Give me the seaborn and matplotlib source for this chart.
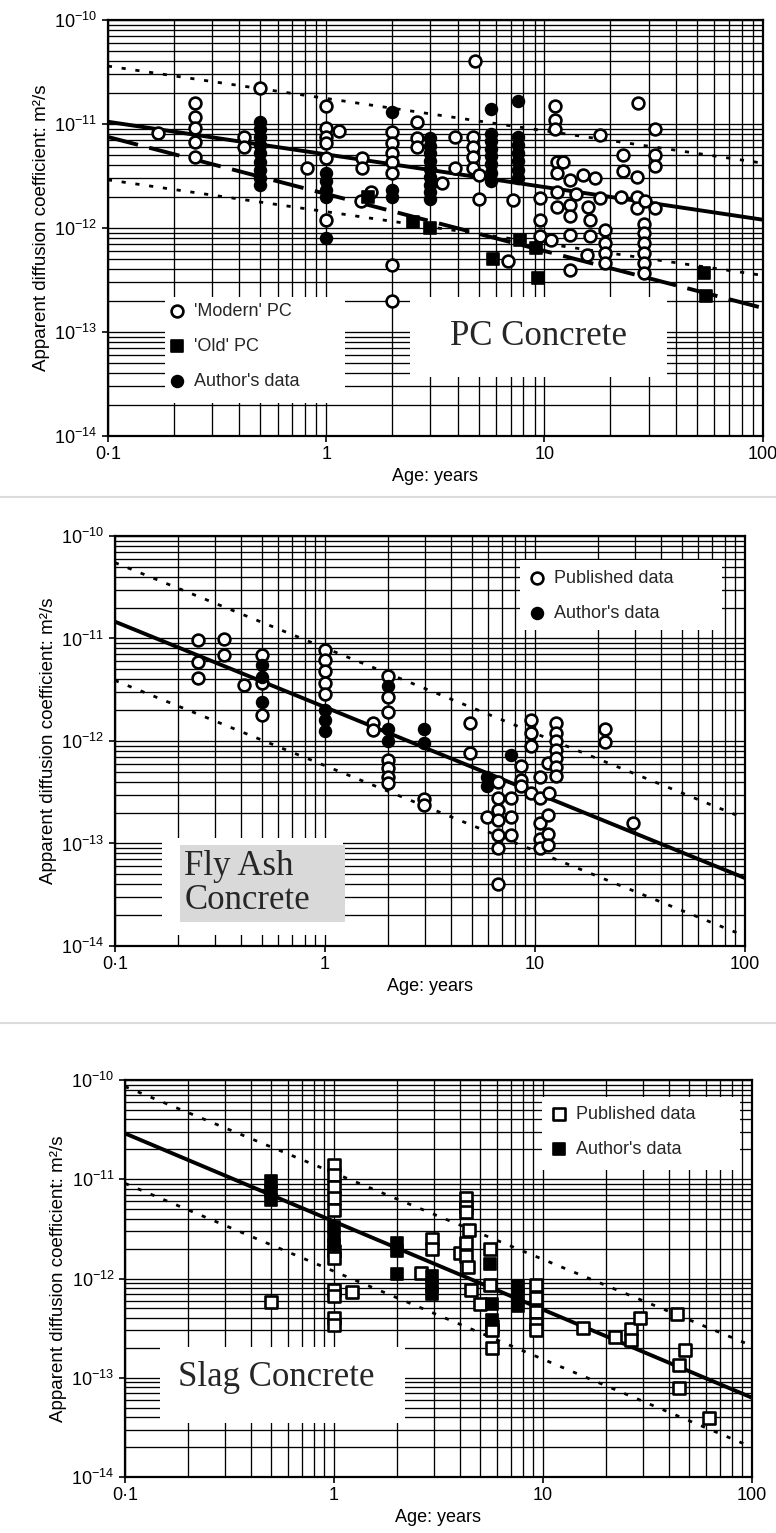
import numpy as np
import pandas as pd
import matplotlib
matplotlib.use("Agg")
import matplotlib.pyplot as plt
import matplotlib.ticker as mticker
from matplotlib.patches import Rectangle
from matplotlib.lines import Line2D
import seaborn as sns

sns.set_theme(style="white")
plt.rcParams['font.family'] = ['Liberation Sans', 'DejaVu Sans']

# axis ticks
age_ticks = [0.1, 1, 10, 100]
age_tick_labels = ['0·1', '1', '10', '100']
d_ticks = [1e-14, 1e-13, 1e-12, 1e-11, 1e-10]
fit_age = [0.1, 100]

# ---- PC concrete (top panel) ----
pc_modern_age = [0.17, 0.25, 0.25, 0.25, 0.25, 0.25, 0.42, 0.42, 0.5, 0.82,
                 1, 1, 1, 1, 1, 1, 1.15, 1.46, 1.46, 1.45, 1.6,
                 2, 2, 2, 2, 2, 2, 2, 2.6, 2.6, 2.6, 3.4, 3.9, 3.9,
                 4.7, 4.7, 4.7, 4.7, 5.0, 5.0, 4.8, 6.8, 7.2,
                 9.5, 9.5, 9.5, 10.7, 11.2, 11.2, 11.2, 11.4, 11.4, 11.4, 11.4, 12.2,
                 13.1, 13.1, 13.1, 13.1, 13.1, 14, 15, 15.6, 15.8, 16.1, 16.1, 17, 18, 18,
                 18.9, 18.9, 18.9, 18.9, 22.5, 23, 23, 26.5, 26.5, 26.5, 26.8,
                 28.5, 28.5, 28.5, 28.5, 28.5, 28.5, 29, 32, 32, 32, 32]
pc_modern_d = [8.1e-12, 1.6e-11, 1.17e-11, 9.1e-12, 6.7e-12, 4.8e-12, 7.5e-12, 6.0e-12, 2.2e-11, 3.8e-12,
               1.5e-11, 9.1e-12, 7.5e-12, 6.6e-12, 4.7e-12, 1.2e-12, 8.6e-12, 4.7e-12, 3.8e-12, 1.8e-12, 2.2e-12,
               8.4e-12, 6.5e-12, 5.3e-12, 4.3e-12, 3.4e-12, 4.4e-13, 2.0e-13, 1.05e-11, 7.3e-12, 6.0e-12, 2.7e-12, 7.5e-12, 3.8e-12,
               7.5e-12, 6.0e-12, 4.8e-12, 3.8e-12, 3.2e-12, 1.9e-12, 4.0e-11, 4.8e-13, 1.85e-12,
               1.95e-12, 1.2e-12, 8.3e-13, 7.7e-13, 1.5e-11, 1.1e-11, 9.0e-12, 4.3e-12, 3.4e-12, 2.2e-12, 1.6e-12, 4.3e-12,
               2.9e-12, 1.65e-12, 1.3e-12, 8.6e-13, 3.9e-13, 2.1e-12, 3.2e-12, 5.5e-13, 1.6e-12, 1.2e-12, 8.3e-13, 3.0e-12, 7.8e-12, 1.95e-12,
               9.6e-13, 7.1e-13, 5.7e-13, 4.6e-13, 2.0e-12, 5.0e-12, 3.5e-12, 3.1e-12, 2.0e-12, 1.55e-12, 1.6e-11,
               1.1e-12, 9.0e-13, 7.2e-13, 5.7e-13, 4.6e-13, 3.7e-13, 1.8e-12, 8.9e-12, 5.0e-12, 3.9e-12, 1.55e-12]
pc_old_age = [1.55, 2.5, 3.0, 5.8, 7.7, 9.1, 9.3, 54, 55]
pc_old_d = [2.0e-12, 1.15e-12, 1.0e-12, 5.0e-13, 7.6e-13, 6.4e-13, 3.3e-13, 3.7e-13, 2.2e-13]
pc_author_age = [0.5] * 9 + [1] * 5 + [2] * 3 + [3] * 9 + [5.7] * 8 + [7.6] * 7
pc_author_d = [1.05e-11, 9e-12, 7.5e-12, 6.3e-12, 5.2e-12, 4.3e-12, 3.6e-12, 3.0e-12, 2.6e-12,
               3.4e-12, 2.8e-12, 2.3e-12, 2.0e-12, 8e-13,
               1.3e-11, 2.3e-12, 2.0e-12,
               7.3e-12, 6.2e-12, 5.2e-12, 4.4e-12, 3.7e-12, 3.1e-12, 2.6e-12, 2.2e-12, 1.9e-12,
               1.4e-11, 8e-12, 6.8e-12, 5.8e-12, 4.9e-12, 4.1e-12, 3.4e-12, 2.8e-12,
               1.65e-11, 7.5e-12, 6.3e-12, 5.3e-12, 4.4e-12, 3.6e-12, 3.0e-12]
pc_mean = [1.05e-11, 1.2e-12]
pc_upper = [3.6e-11, 4.2e-12]
pc_lower = [2.9e-12, 3.5e-13]
pc_old_fit = [7.5e-12, 1.7e-13]

# ---- Fly ash concrete (middle panel) ----
fa_pub_age = [0.25, 0.25, 0.25, 0.33, 0.33, 0.41, 0.5, 0.5, 0.5,
              1, 1, 1, 1, 1, 1.7, 1.7, 2, 2, 2, 2, 2, 2, 2, 2.95, 2.95,
              4.9, 4.9, 5.9, 6.7, 6.7, 6.7, 6.7, 6.7, 6.7, 6.7, 7.7, 7.7, 7.7,
              8.6, 8.6, 8.6, 9.6, 9.6, 9.6, 9.6, 10.6, 10.6, 10.6, 10.6, 10.6,
              11.5, 11.5, 11.5, 11.5, 11.7, 12.6, 12.6, 12.6, 12.6, 12.6, 12.6, 12.6,
              21.5, 21.5, 29.4]
fa_pub_d = [9.7e-12, 5.9e-12, 4.1e-12, 9.8e-12, 6.9e-12, 3.5e-12, 6.9e-12, 3.7e-12, 1.8e-12,
            7.7e-12, 6.2e-12, 4.8e-12, 3.7e-12, 2.9e-12, 1.5e-12, 1.28e-12,
            4.3e-12, 2.7e-12, 1.9e-12, 6.5e-13, 5.4e-13, 4.5e-13, 3.9e-13, 2.7e-13, 2.35e-13,
            1.5e-12, 7.7e-13, 1.8e-13, 4.0e-13, 2.75e-13, 2.1e-13, 1.7e-13, 1.2e-13, 9e-14, 4e-14,
            2.75e-13, 1.8e-13, 1.2e-13, 5.7e-13, 4.2e-13, 3.6e-13, 1.6e-12, 1.2e-12, 8.9e-13, 3.1e-13,
            4.5e-13, 2.75e-13, 1.6e-13, 1.1e-13, 9e-14, 6.1e-13, 1.9e-13, 1.25e-13, 9.7e-14, 3.1e-13,
            1.5e-12, 1.2e-12, 1.0e-12, 8.2e-13, 6.8e-13, 5.6e-13, 4.6e-13, 1.3e-12, 9.8e-13, 1.6e-13]
fa_author_age = [0.5, 0.5, 0.5, 1, 1, 1, 2, 2, 2, 2.95, 2.95, 5.9, 5.9, 7.7]
fa_author_d = [5.5e-12, 4.2e-12, 2.4e-12, 2.0e-12, 1.6e-12, 1.25e-12, 3.4e-12, 1.3e-12, 1.0e-12,
               1.3e-12, 9.5e-13, 4.5e-13, 3.6e-13, 7.3e-13]
fa_mean = [1.46e-11, 4.6e-14]
fa_upper = [5.5e-11, 1.75e-13]
fa_lower = [3.9e-12, 1.25e-14]

# ---- Slag concrete (bottom panel) ----
sl_pub_age = [0.5, 1, 1, 1, 1, 1, 1, 1, 1, 1, 1, 1, 1.22, 2.6, 2.93, 2.93, 4.0,
              4.3, 4.3, 4.3, 4.3, 4.3, 4.45, 4.4, 4.55, 5.0, 5.6, 5.6, 5.7, 5.7, 5.7,
              9.3, 9.3, 9.3, 9.3, 9.3, 15.5, 22, 26.5, 26.5, 29, 44, 45, 45, 48, 62]
sl_pub_d = [5.8e-13, 1.4e-11, 1.1e-11, 8.4e-12, 6.4e-12, 4.9e-12, 1.9e-12, 1.6e-12, 7.7e-13, 6.6e-13, 4.0e-13, 3.4e-13,
            7.4e-13, 1.14e-12, 2.5e-12, 2.0e-12, 1.8e-12,
            6.4e-12, 5.3e-12, 4.7e-12, 2.3e-12, 1.7e-12, 3.1e-12, 1.3e-12, 7.7e-13, 5.6e-13,
            2.0e-12, 8.6e-13, 3.3e-13, 3.0e-13, 2.0e-13,
            8.6e-13, 6.3e-13, 4.6e-13, 3.5e-13, 3.0e-13, 3.2e-13, 2.6e-13, 3.1e-13, 2.4e-13, 4.0e-13,
            4.4e-13, 1.35e-13, 7.8e-14, 1.9e-13, 3.9e-14]
sl_author_age = [0.5, 0.5, 0.5, 1, 1, 1, 2, 2, 2, 2.93, 2.93, 2.93, 5.6, 5.7, 5.7, 7.6, 7.6, 7.6]
sl_author_d = [9.5e-12, 7.7e-12, 6.2e-12, 3.3e-12, 2.6e-12, 2.2e-12, 2.3e-12, 1.9e-12, 1.1e-12,
               1.05e-12, 8.5e-13, 7e-13, 1.4e-12, 5.6e-13, 3.8e-13, 8.5e-13, 6.6e-13, 5.3e-13]
sl_mean = [2.9e-11, 6.3e-14]
sl_upper = [8.6e-11, 2.1e-13]
sl_lower = [9.1e-12, 2.0e-14]

DOTTED = (0, (1.5, 3.5))
LEG_KW = dict(loc='upper left', frameon=False, fontsize=13, labelspacing=1.0, handletextpad=0.45,
              borderaxespad=0, borderpad=0, handlelength=1.0)

fig = plt.figure(figsize=(7.76, 15.33), dpi=100)
ax1 = fig.add_axes([0.139, 0.7156, 0.844, 0.2714])
ax2 = fig.add_axes([0.148, 0.3829, 0.812, 0.2675])
ax3 = fig.add_axes([0.161, 0.0365, 0.808, 0.259])


def style_axes(ax):
    ax.set_xscale('log')
    ax.set_yscale('log')
    ax.set_xlim(0.1, 100)
    ax.set_ylim(1e-14, 1e-10)
    ax.set_xticks(age_ticks, labels=age_tick_labels)
    ax.yaxis.set_major_locator(mticker.FixedLocator(d_ticks))
    ax.yaxis.set_major_formatter(mticker.LogFormatterSciNotation())
    for a in (ax.xaxis, ax.yaxis):
        a.set_minor_locator(mticker.LogLocator(10, subs=np.arange(2, 10), numticks=60))
        a.set_minor_formatter(mticker.NullFormatter())
    ax.grid(True, which='both', color='black', linewidth=0.95)
    ax.set_axisbelow(True)
    ax.tick_params(which='major', direction='out', length=4, width=1.2,
                   bottom=True, left=True, labelsize=13, colors='black')
    ax.tick_params(which='minor', length=0)
    for s in ax.spines.values():
        s.set_linewidth(1.6)
        s.set_color('black')
    ax.set_xlabel('Age: years', fontsize=13, color='black', labelpad=3)
    ax.set_ylabel('Apparent diffusion coefficient: m²/s', fontsize=13.5, color='black', labelpad=3)


def open_pts(ax, x, y, marker, label):
    return sns.scatterplot(x=x, y=y, ax=ax, marker=marker, s=72, color='white',
                           edgecolor='black', linewidth=1.9, zorder=4, label=label)


def filled_pts(ax, x, y, marker, label):
    return sns.scatterplot(x=x, y=y, ax=ax, marker=marker, s=72, color='black',
                           edgecolor='black', linewidth=1.2, zorder=4, label=label)


def fit_lines(ax, mean, upper, lower):
    sns.lineplot(x=fit_age, y=mean, ax=ax, color='black', linewidth=2.8, zorder=3)
    sns.lineplot(x=fit_age, y=upper, ax=ax, color='black', linewidth=2.0, linestyle=DOTTED, zorder=3)
    sns.lineplot(x=fit_age, y=lower, ax=ax, color='black', linewidth=2.0, linestyle=DOTTED, zorder=3)


def white_box(ax, x0, y0, x1, y1, color='white'):
    ax.add_patch(Rectangle((x0, y0), x1 - x0, y1 - y0, transform=ax.transAxes,
                           facecolor=color, edgecolor='none', zorder=1.5))


for ax in (ax1, ax2, ax3):
    style_axes(ax)

# top panel
fit_lines(ax1, pc_mean, pc_upper, pc_lower)
sns.lineplot(x=fit_age, y=pc_old_fit, ax=ax1, color='black', linewidth=2.8,
             linestyle=(0, (8, 3)), zorder=3)
open_pts(ax1, pc_modern_age, pc_modern_d, 'o', "'Modern' PC")
filled_pts(ax1, pc_old_age, pc_old_d, 's', "'Old' PC")
filled_pts(ax1, pc_author_age, pc_author_d, 'o', "Author's data")
white_box(ax1, 0.087, 0.079, 0.362, 0.334)
white_box(ax1, 0.461, 0.142, 0.853, 0.334)
ax1.text(0.657, 0.238, 'PC Concrete', transform=ax1.transAxes, ha='center', va='center',
         family='Liberation Serif', fontsize=25, zorder=5)
h, l = ax1.get_legend_handles_labels()
ax1.legend(h, l, bbox_to_anchor=(0.092, 0.32), **LEG_KW)

# middle panel
fit_lines(ax2, fa_mean, fa_upper, fa_lower)
open_pts(ax2, fa_pub_age, fa_pub_d, 'o', 'Published data')
filled_pts(ax2, fa_author_age, fa_author_d, 'o', "Author's data")
white_box(ax2, 0.643, 0.771, 0.963, 0.941)
white_box(ax2, 0.075, 0.027, 0.362, 0.263)
white_box(ax2, 0.103, 0.059, 0.366, 0.246, color='#d9d9d9')
ax2.text(0.11, 0.152, 'Fly Ash\nConcrete', transform=ax2.transAxes, ha='left', va='center',
         family='Liberation Serif', fontsize=25, linespacing=1.05, zorder=5)
h, l = ax2.get_legend_handles_labels()
ax2.legend(h, l, bbox_to_anchor=(0.656, 0.918), **LEG_KW)

# bottom panel
fit_lines(ax3, sl_mean, sl_upper, sl_lower)
open_pts(ax3, sl_pub_age, sl_pub_d, 's', 'Published data')
filled_pts(ax3, sl_author_age, sl_author_d, 's', "Author's data")
white_box(ax3, 0.665, 0.773, 0.981, 0.957)
white_box(ax3, 0.056, 0.136, 0.447, 0.327)
ax3.text(0.085, 0.25, 'Slag Concrete', transform=ax3.transAxes, ha='left', va='center',
         family='Liberation Serif', fontsize=25, zorder=5)
h, l = ax3.get_legend_handles_labels()
ax3.legend(h, l, bbox_to_anchor=(0.678, 0.935), **LEG_KW)

# faint separators between the scanned panels
for yy in (0.676, 0.333):
    fig.add_artist(Line2D([0, 1], [yy, yy], transform=fig.transFigure, color='#dcdcdc', linewidth=1.5))

fig.savefig('out.png', dpi=100)
